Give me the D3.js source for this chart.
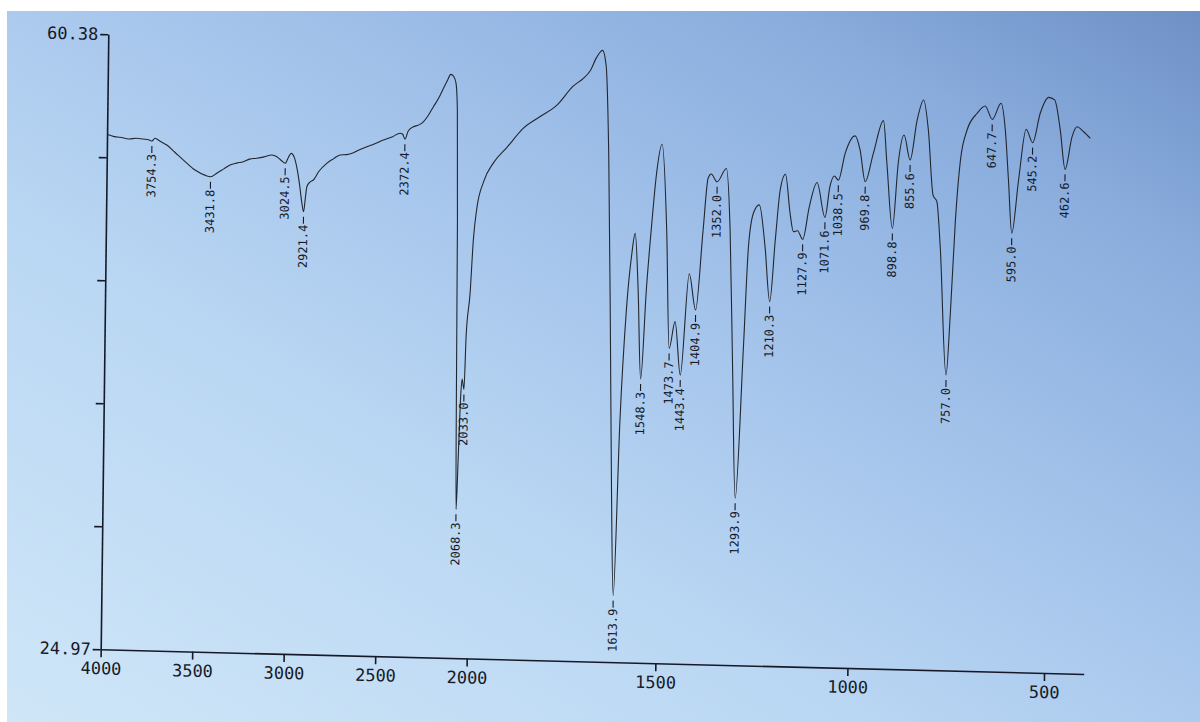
<!DOCTYPE html>
<html><head><meta charset="utf-8">
<script src="https://cdn.jsdelivr.net/npm/d3@7"></script>
<style>html,body{margin:0;padding:0;background:#fff}svg{display:block}</style>
</head><body>
<svg id="c" width="1200" height="722"></svg>
<script>
// ---- data ----
const wavenumbers = [4000,3960,3929,3880,3840,3803,3770,3754.3,3738,3710,3673,3630,3581,3517,3460,3431.8,3398,3360,3326,3290,3254,3220,3181,3140,3099,3071,3045,3024.5,3008,2993,2975,2962,2945,2932,2921.4,2912,2905,2890,2870,2840,2798,2760,2726,2690,2653,2620,2580,2540,2490,2440,2399,2385,2372.4,2355,2327,2300,2273,2245,2219,2190,2166,2145,2126,2110,2097,2088,2080,2074,2068.3,2060,2050,2044,2033.0,2025,2006,1996,1988,1971,1945,1910,1867,1823,1779,1736,1710,1692,1675,1660,1650,1640,1630,1622,1613.9,1602,1588,1576,1567.5,1558,1548.3,1536,1524,1513,1499,1484,1473.7,1459,1443.4,1423,1404.9,1388,1376,1368,1352.0,1328,1316,1305,1293.9,1277,1267,1255,1240,1224,1210.3,1198,1187,1174,1161,1152,1141.5,1127.9,1112,1093,1071.6,1060,1049,1038.5,1022,997,984,969.8,950,925,915,898.8,886,872,855.6,839,823,810,796,786,776,757.0,748,738,727,711,686,666,647.7,626,614.5,605,595.0,579.5,562,545.2,527,506,491,476,462.6,446,434,417,400];
const transmittance = [54.62,54.50,54.47,54.38,54.44,54.40,54.36,54.30,54.46,54.30,54.09,53.70,53.25,52.69,52.40,52.33,52.54,52.80,53.03,53.15,53.24,53.40,53.46,53.55,53.67,53.58,53.35,53.21,53.55,53.79,53.55,53.03,52.00,51.00,50.45,51.30,51.89,52.15,52.29,52.80,53.27,53.55,53.77,53.80,53.92,54.10,54.28,54.45,54.69,54.90,55.11,55.05,54.77,55.25,55.50,55.60,55.80,56.20,56.68,57.20,57.75,58.20,58.57,58.45,58.06,56.50,50.00,40.00,33.54,36.50,40.20,41.05,40.45,43.50,46.02,49.11,50.88,52.43,53.55,54.45,55.58,56.27,56.95,58.08,58.53,58.98,59.77,60.17,59.30,54.00,44.00,35.00,28.80,38.75,45.38,48.46,49.68,46.50,41.31,46.50,50.25,53.13,54.85,49.83,43.11,44.66,41.59,47.44,45.36,49.88,52.98,53.21,52.77,53.55,49.92,42.00,34.58,43.31,49.08,51.01,51.50,49.10,45.95,49.50,52.39,53.30,51.06,50.01,50.07,49.58,51.47,52.87,50.88,52.65,53.27,53.04,54.59,55.61,54.81,52.99,54.63,56.53,54.08,50.34,54.10,55.73,54.30,56.61,57.78,56.06,52.32,51.94,49.35,41.98,45.54,50.91,54.37,56.11,57.09,57.52,56.76,57.70,56.17,53.29,50.23,53.31,56.24,55.48,57.18,58.11,57.97,56.25,53.99,55.88,56.46,56.18,55.81];
const peakLabels = [3754.3,3431.8,3024.5,2921.4,2372.4,2068.3,2033.0,1613.9,1548.3,1473.7,1443.4,1404.9,1352.0,1293.9,1210.3,1127.9,1071.6,1038.5,969.8,898.8,855.6,757.0,647.7,595.0,545.2,462.6];
const xTicks = [4000,3500,3000,2500,2000,1500,1000,500];
const yMin = 24.97, yMax = 60.38;
const yTicks = d3.range(6).map(i => yMin + i * (yMax - yMin) / 5);

// ---- layout ----
const W = 983, H = 615;
const svg = d3.select('#c');
const defs = svg.append('defs');
const g1 = defs.append('linearGradient').attr('id','bg')
  .attr('x1','0').attr('y1','1').attr('x2','1').attr('y2','0');
[[0,'#cfe6f8'],[0.35,'#bad7f3'],[0.6,'#a2c2ea'],[0.82,'#8aaddd'],[1,'#6e90c6']]
  .forEach(([o,c]) => g1.append('stop').attr('offset',o).attr('stop-color',c));
svg.append('rect').attr('width',1200).attr('height',722).attr('fill','#ffffff');
svg.append('rect').attr('x',7).attr('y',11).attr('width',1193).attr('height',711).attr('fill','url(#bg)');

const g = svg.append('g').attr('transform','matrix(1,0.0251,-0.01236,1,108.3,34.3)');

const x = d3.scaleLinear().domain([4000,2000,1250,700,400]).range([0,366,649,864,W]);
const y = d3.scaleLinear().domain([yMin,yMax]).range([H,0]);

const ink = '#161a28';
const font = "'DejaVu Sans Mono', 'Liberation Mono', monospace";

// x axis
const xa = g.append('g').attr('transform',`translate(0,${H})`)
  .call(d3.axisBottom(x).tickValues(xTicks).tickSize(8).tickSizeOuter(0).tickPadding(5).tickFormat(d3.format('d')));
xa.select('.domain').attr('stroke',ink).attr('stroke-width',1.6);
xa.selectAll('.tick line').attr('stroke',ink).attr('stroke-width',1.6);
xa.selectAll('.tick text').attr('fill',ink).style('font-family',font).style('font-size','17px');

// y axis
const ya = g.append('g')
  .call(d3.axisLeft(y).tickValues(yTicks).tickSize(8).tickSizeOuter(0).tickPadding(2)
    .tickFormat((d,i) => (i === 0 || i === yTicks.length - 1) ? d.toFixed(2) : ''));
ya.select('.domain').attr('stroke',ink).attr('stroke-width',1.6);
ya.selectAll('.tick line').attr('stroke',ink).attr('stroke-width',1.6);
ya.selectAll('.tick text').attr('fill',ink).style('font-family',font).style('font-size','17px');

// spectrum
const pts = wavenumbers.map((w,i) => [w, transmittance[i]]);
const line = d3.line().x(d => x(d[0])).y(d => y(d[1])).curve(d3.curveMonotoneX);
g.append('path').datum(pts).attr('d', line)
  .attr('fill','none').attr('stroke','#22262f').attr('stroke-width',1.1).attr('stroke-linejoin','round');

// peak labels: dash marker + rotated value
const gap = 5, dashLen = 7;
peakLabels.forEach(p => {
  const i = wavenumbers.indexOf(p);
  const px = x(p), py = y(transmittance[i]) + gap;
  g.append('line').attr('x1',px).attr('x2',px).attr('y1',py).attr('y2',py + dashLen)
    .attr('stroke',ink).attr('stroke-width',1.1);
  g.append('text')
    .attr('transform', `translate(${px},${py + dashLen + 1}) rotate(-90)`)
    .attr('text-anchor','end').attr('dominant-baseline','central')
    .attr('fill',ink).style('font-family',font).style('font-size','12px')
    .text(p.toFixed(1));
});
</script>
</body></html>
